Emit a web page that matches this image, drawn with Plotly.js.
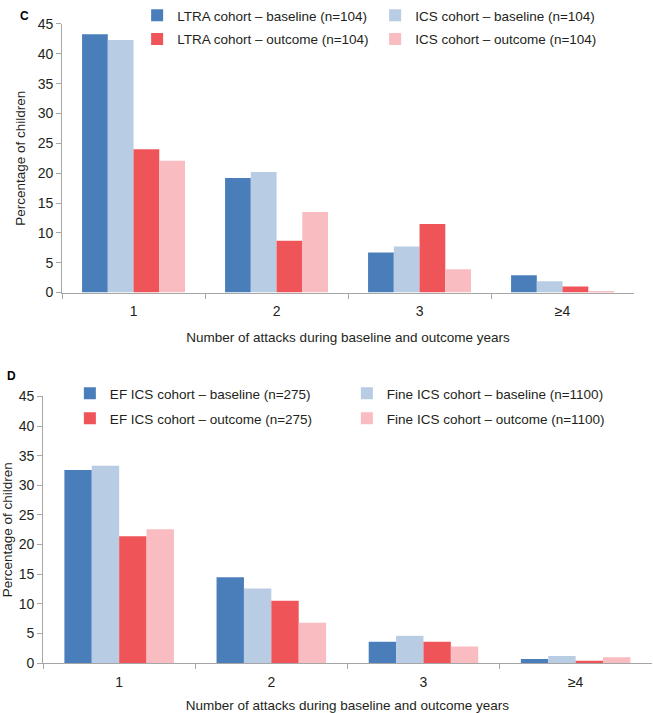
<!DOCTYPE html>
<html>
<head>
<meta charset="utf-8">
<script src="https://cdn.plot.ly/plotly-3.0.1.min.js"></script>
<style>
  body { margin: 0; background: #fff; }
  #plotId { width: 653px; height: 713px; }
</style>
</head>
<body>
<div id="plotId"></div>
<script>
// categories on the x axis (number of attacks)
const categories = ['1', '2', '3', '≥4'];

// panel C - LTRA vs ICS cohorts
const ltraBaseline = [43.3, 19.2, 6.7, 2.9];
const icsBaseline = [42.3, 20.2, 7.7, 1.9];
const ltraOutcome = [24.0, 8.7, 11.5, 1.0];
const icsOutcome = [22.1, 13.5, 3.9, 0.1];

// panel D - EF ICS vs Fine ICS cohorts
const efBaseline = [32.6, 14.5, 3.6, 0.7];
const fineBaseline = [33.3, 12.6, 4.6, 1.2];
const efOutcome = [21.4, 10.5, 3.6, 0.4];
const fineOutcome = [22.6, 6.8, 2.8, 1.0];

const darkBlue = '#4a7ebb';
const lightBlue = '#b8cce4';
const red = '#ef5458';
const pink = '#f9bdc1';

const font = 'Liberation Sans, Arial, sans-serif';
const textColor = '#231f20';
const axisColor = '#a6a6a6';

function bar(y, name, color, xaxis, yaxis, legend) {
    return {
        x: categories,
        y,
        name,
        type: 'bar',
        xaxis,
        yaxis,
        legend,
        marker: { color },
        hoverinfo: 'y+name'
    };
}

const data = [
    bar(ltraBaseline, 'LTRA cohort – baseline (n=104)', darkBlue, 'x', 'y', 'legend'),
    bar(icsBaseline, 'ICS cohort – baseline (n=104)', lightBlue, 'x', 'y', 'legend'),
    bar(ltraOutcome, 'LTRA cohort – outcome (n=104)', red, 'x', 'y', 'legend2'),
    bar(icsOutcome, 'ICS cohort – outcome (n=104)', pink, 'x', 'y', 'legend2'),
    bar(efBaseline, 'EF ICS cohort – baseline (n=275)', darkBlue, 'x2', 'y2', 'legend3'),
    bar(fineBaseline, 'Fine ICS cohort – baseline (n=1100)', lightBlue, 'x2', 'y2', 'legend3'),
    bar(efOutcome, 'EF ICS cohort – outcome (n=275)', red, 'x2', 'y2', 'legend4'),
    bar(fineOutcome, 'Fine ICS cohort – outcome (n=1100)', pink, 'x2', 'y2', 'legend4')
];

function xAxis(domain, anchor) {
    return {
        domain,
        anchor,
        type: 'category',
        showline: true,
        linecolor: axisColor,
        linewidth: 1,
        ticks: 'outside',
        tickson: 'boundaries',
        ticklen: 5,
        tickcolor: axisColor,
        ticklabelstandoff: 6,
        showgrid: false,
        zeroline: false,
        tickfont: { family: font, size: 14, color: textColor },
        title: {
            text: 'Number of attacks during baseline and outcome years',
            font: { family: font, size: 13.5, color: textColor },
            standoff: 14
        },
        fixedrange: true
    };
}

function yAxis(domain, anchor) {
    return {
        domain,
        anchor,
        range: [0, 45],
        dtick: 5,
        showline: true,
        linecolor: axisColor,
        linewidth: 1,
        ticks: 'outside',
        ticklen: 5,
        tickcolor: axisColor,
        showgrid: false,
        zeroline: false,
        tickfont: { family: font, size: 14, color: textColor },
        title: {
            text: 'Percentage of children',
            font: { family: font, size: 13.5, color: textColor }
        },
        fixedrange: true
    };
}

function legendRow(x, y, entrywidth) {
    return {
        orientation: 'h',
        x,
        y,
        xanchor: 'left',
        yanchor: 'middle',
        entrywidth,
        bgcolor: 'rgba(0,0,0,0)',
        font: { family: font, size: 13.5, color: textColor },
        itemclick: false,
        itemdoubleclick: false
    };
}

const layout = {
    width: 653,
    height: 713,
    margin: { l: 0, r: 0, t: 0, b: 0 },
    paper_bgcolor: '#fff',
    plot_bgcolor: '#fff',
    barmode: 'group',
    bargap: 0.28,
    bargroupgap: 0,
    hovermode: 'closest',
    font: { family: font, size: 13.5, color: textColor },
    xaxis: xAxis([0.095, 0.971], 'y'),
    yaxis: yAxis([0.5905, 0.9677], 'x'),
    xaxis2: xAxis([0.066, 0.998], 'y2'),
    yaxis2: yAxis([0.0701, 0.4446], 'x2'),
    legend: legendRow(0.21, 0.980, 193),
    legend2: legendRow(0.21, 0.945, 193),
    legend3: legendRow(0.107, 0.448, 232),
    legend4: legendRow(0.107, 0.413, 232),
    annotations: [
        { text: '<b>C</b>', x: 0.028, y: 0.992, xref: 'paper', yref: 'paper', showarrow: false, font: { family: font, size: 12, color: '#000' } },
        { text: '<b>D</b>', x: 0.008, y: 0.473, xref: 'paper', yref: 'paper', showarrow: false, font: { family: font, size: 12, color: '#000' } }
    ]
};

Plotly.newPlot('plotId', data, layout, { displayModeBar: false });
</script>
</body>
</html>
